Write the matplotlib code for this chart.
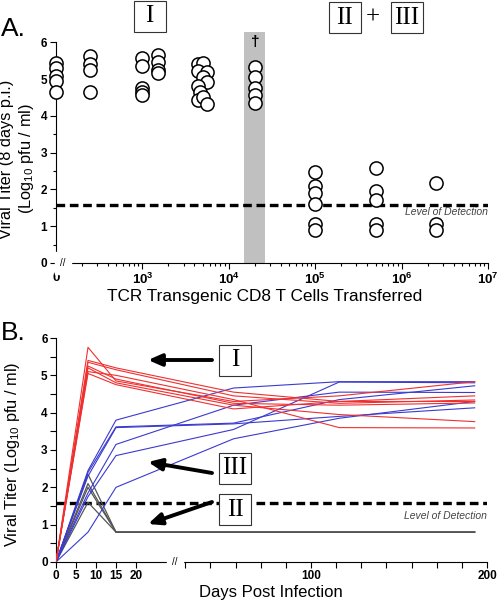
import numpy as np
import matplotlib.pyplot as plt
from matplotlib.patches import Rectangle

plt.rcParams['font.family'] = ['Liberation Sans', 'DejaVu Sans']
plt.rcParams['mathtext.fontset'] = 'custom'
plt.rcParams['mathtext.rm'] = 'Liberation Sans'
plt.rcParams['mathtext.bf'] = 'Liberation Sans:bold'

W, H = 500, 602

# ---- Panel A: titer at day 8 vs. number of cells transferred
# (0 cells is drawn at the 10^2 position, left of the axis break)
a_cells = [0]*5 + [250]*4 + [1000]*5 + [1500]*4 \
    + [4400, 5000, 4400, 5600, 5000, 5600, 4400, 4700, 4400, 5000, 5600] \
    + [2e4]*5 + [1e5]*6 + [5e5]*5 + [2.5e6]*3
a_titer = [5.45, 5.3, 5.08, 4.95, 4.65,
           5.64, 5.42, 5.25, 4.65,
           5.57, 5.35, 4.77, 4.65, 4.56,
           5.66, 5.46, 5.26, 5.16,
           5.4, 5.44, 5.23, 5.2, 5.05, 4.92, 4.8, 4.65, 4.42, 4.51, 4.31,
           5.34, 5.05, 4.76, 4.56, 4.35,
           2.48, 2.08, 1.9, 1.6, 1.06, 0.9,
           2.57, 1.97, 1.71, 1.06, 0.9,
           2.18, 1.06, 0.9]
detect = 1.57
lethal_band = (1.5e4, 2.6e4)

# ---- Panel B: titer over time per mouse
days = [0, 8, 15, 56, 116, 193]
red_lines = [
    [0, 5.75, 4.85, 4.3, 4.45, 4.83],
    [0, 5.4, 5.2, 4.55, 4.3, 4.45],
    [0, 5.35, 5.15, 4.45, 4.25, 4.34],
    [0, 5.25, 4.9, 4.25, 4.2, 4.26],
    [0, 5.2, 4.8, 4.2, 3.95, 3.76],
    [0, 5.1, 5.0, 4.35, 3.6, 3.59],
    [0, 5.05, 4.75, 4.1, 4.3, 4.3],
]
blue_lines = [
    [0, 2.45, 3.8, 4.66, 4.83, 4.83],
    [0, 2.4, 3.62, 3.72, 4.35, 4.72],
    [0, 2.3, 3.6, 3.7, 3.9, 4.13],
    [0, 1.85, 3.15, 4.2, 4.55, 4.54],
    [0, 1.75, 2.85, 3.55, 4.82, 4.8],
    [0, 0.8, 2.0, 3.3, 3.85, 4.3],
]
black_lines = [
    [0, 2.35, 0.8, 0.8, 0.8, 0.8],
    [0, 2.1, 0.8, 0.8, 0.8, 0.8],
    [0, 2.0, 0.8, 0.8, 0.8, 0.8],
    [0, 1.6, 0.8, 0.8, 0.8, 0.8],
]


def fx(px):
    return px / W


def fy(py):
    return 1 - py / H


fig = plt.figure(figsize=(5, 6.02), dpi=100)

# ======================= panel A =======================
axA = fig.add_axes([fx(56), fy(263), fx(488 - 56), (263 - 32) / H])
axA.set_xscale('log')
axA.set_xlim(1e2, 1e7)
axA.set_ylim(0, 6.28)
axA.axvspan(*lethal_band, color='#c0c0c0', lw=0, zorder=0)
axA.axhline(detect, color='black', lw=2.4, ls=(0, (2.6, 1.4)), zorder=1)
xa = np.maximum(np.array(a_cells, float), 1e2)
axA.scatter(xa, a_titer, s=90, facecolors='white', edgecolors='black',
            linewidths=1.1, zorder=3, clip_on=False)
axA.text(2e4, 6.0, '\u2020', ha='center', va='center', fontsize=11,
         fontweight='bold')
axA.text(1e7, 1.38, 'Level of Detection', ha='right', va='center',
         fontsize=7.5, style='italic', color='#444444')

for s in ['top', 'right']:
    axA.spines[s].set_visible(False)
axA.spines['left'].set_bounds(0, 6)
axA.set_yticks(range(7))
axA.set_yticks(np.arange(0, 6.01, 0.5), minor=True)
axA.set_xticks([1e2, 1e3, 1e4, 1e5, 1e6, 1e7])
axA.set_xticklabels(['0', '$\\mathbf{10^3}$', '$\\mathbf{10^4}$',
                     '$\\mathbf{10^5}$', '$\\mathbf{10^6}$', '$\\mathbf{10^7}$'])
axA.tick_params(which='both', direction='out', labelsize=8.5, width=0.8,
                pad=2.5)
axA.tick_params(axis='x', labelsize=9.5)
axA.tick_params(which='major', length=4)
axA.tick_params(which='minor', length=2.5)
for lab in axA.get_xticklabels() + axA.get_yticklabels():
    lab.set_fontweight('bold')
axA.text(0.016, 0, '//', transform=axA.transAxes, ha='center', va='center',
         fontsize=7, backgroundcolor='white')


# ======================= panel B =======================
def fwd(x):
    x = np.asarray(x, float)
    return np.where(x <= 20, 4 * x, 255 + (x - 100) * 1.76)


def inv(u):
    u = np.asarray(u, float)
    return np.where(u <= 80, u / 4,
                    np.where(u < 114.2, 20, 100 + (u - 255) / 1.76))


axB = fig.add_axes([fx(56), fy(562), fx(487 - 56), (562 - 338) / H])
axB.set_xscale('function', functions=(fwd, inv))
axB.set_xlim(0, 200)
axB.set_ylim(0, 6)
axB.axhline(detect, color='black', lw=2.4, ls=(0, (2.6, 1.4)), zorder=1)
for ys in black_lines:
    axB.plot(days, ys, color='#555555', lw=0.9, zorder=2)
for ys in blue_lines:
    axB.plot(days, ys, color='#3a3ad0', lw=0.8, zorder=3)
for ys in red_lines:
    axB.plot(days, ys, color='#f03030', lw=0.8, zorder=4)
axB.text(200, 1.23, 'Level of Detection', ha='right', va='center',
         fontsize=7.5, style='italic', color='#444444')

for s in ['top', 'right']:
    axB.spines[s].set_visible(False)
axB.set_yticks(range(7))
axB.set_yticks(np.arange(0, 6.01, 0.5), minor=True)
axB.set_xticks([0, 5, 10, 15, 20, 100, 200])
axB.set_xticklabels(['0', '5', '10', '15', '20', '100', '200'])
axB.set_xticks([100 + k * 100 / 7 for k in range(-5, 8) if k not in (0, 7)],
               minor=True)
axB.tick_params(which='both', direction='out', labelsize=8.5, width=0.8,
                pad=2)
axB.tick_params(which='major', length=4)
axB.tick_params(which='minor', length=4)
for lab in axB.get_xticklabels() + axB.get_yticklabels():
    lab.set_fontweight('bold')
axB.text((175 - 56) / (487 - 56), 0, '//', transform=axB.transAxes,
         ha='center', va='center', fontsize=7, backgroundcolor='white')

# ======================= axis labels =======================
fig.text(fx(264.5), fy(297), 'TCR Transgenic CD8 T Cells Transferred',
         ha='center', va='center', fontsize=12.4)
fig.text(fx(17.5), fy(159),
         'Viral Titer (8 days p.i.)\n(Log$_{10}$ pfu / ml)',
         ha='center', va='center', rotation=90, fontsize=11.8,
         linespacing=1.15, multialignment='center')
fig.text(fx(271), fy(592), 'Days Post Infection', ha='center', va='center',
         fontsize=12)
fig.text(fx(13), fy(454), 'Viral Titer (Log$_{10}$ pfu / ml)', ha='center',
         va='center', rotation=90, fontsize=11.8)

# ======================= annotations =======================
fig.text(fx(1), fy(29), 'A.', fontsize=19, va='center', ha='left')
fig.text(fx(1), fy(333), 'B.', fontsize=19, va='center', ha='left')


def numeral_box(cx, cy, label, w=32, h=31):
    fig.patches.append(Rectangle((fx(cx - w / 2), fy(cy + h / 2)),
                                 w / W, h / H, transform=fig.transFigure,
                                 facecolor='white', edgecolor='#333333',
                                 lw=0.8, zorder=5))
    fig.text(fx(cx), fy(cy), label, ha='center', va='center', fontsize=18,
             family='Liberation Serif', zorder=6)


numeral_box(149.5, 16, 'I')
numeral_box(344.5, 17.5, 'II')
numeral_box(407, 17.5, 'III')
fig.text(fx(373), fy(18), '+', ha='center', va='center', fontsize=18,
         family='Liberation Serif')

numeral_box(235, 360.5, 'I')
numeral_box(235, 468.5, 'III')
numeral_box(235, 509.5, 'II')

arrows = [((212, 360), (148, 360)), ((212, 473), (148, 462)),
          ((212, 502), (148, 524))]
for tail, head in arrows:
    fig.add_artist(plt.Annotation(
        '', xy=(fx(head[0]), fy(head[1])), xytext=(fx(tail[0]), fy(tail[1])),
        xycoords='figure fraction', textcoords='figure fraction',
        arrowprops=dict(arrowstyle='-|>,head_length=0.8,head_width=0.35',
                        lw=2.8, color='black', shrinkA=0, shrinkB=0)))

fig.savefig('out.png', dpi=100)
